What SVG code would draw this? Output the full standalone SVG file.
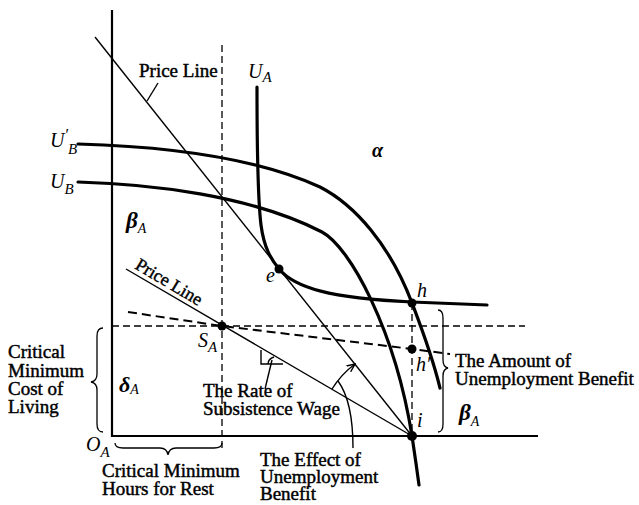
<svg xmlns="http://www.w3.org/2000/svg" width="639" height="505" viewBox="0 0 639 505">
<style>
.lbl{font-family:"Liberation Serif",serif;font-size:19px;fill:#000;stroke:#000;stroke-width:0.45}
.m{font-family:"Liberation Serif",serif;font-style:italic;font-size:20px;fill:#000}
.g{font-family:"Liberation Serif",serif;font-style:italic;font-weight:bold;fill:#000}
.ax{stroke:#000;stroke-width:2.2;fill:none}
.thin{stroke:#000;stroke-width:1.4;fill:none}
.curve{stroke:#000;stroke-width:3.2;fill:none;stroke-linecap:round}
.dash{stroke:#000;stroke-width:1.3;fill:none;stroke-dasharray:7 4}
.dash2{stroke:#000;stroke-width:2;fill:none;stroke-dasharray:9 5}
.br{stroke:#000;stroke-width:1.3;fill:none}
</style>
<defs>
<marker id="arr" viewBox="0 0 10 10" refX="9" refY="5" markerWidth="9" markerHeight="9" orient="auto" markerUnits="userSpaceOnUse">
<path d="M0,1 L9,5 L0,9" fill="none" stroke="#000" stroke-width="1.6"/>
</marker>
</defs>
<rect width="639" height="505" fill="#fff"/>
<g id="axes">
<path class="ax" d="M112,10 V437"/>
<path class="ax" d="M112,436 H538"/>
</g>
<g id="connectors">
<path class="dash" d="M222,45 V452"/>
<path class="dash" d="M112,326 H525"/>
<path class="dash2" d="M128,312 L222,326 L412,349 L450,354"/>
<path class="dash" d="M412,303 V436"/>
<path class="thin" d="M95,37 L412,436"/>
<path class="thin" d="M126,269 L412,436"/>
<path class="thin" d="M158,83 L147,101"/>
<path class="thin" d="M261,350 V364 H283"/>
<path class="thin" d="M268,364 Q268,359 274,357"/>
<path class="thin" d="M265,389 L272,360"/>
<path class="thin" d="M332,389 A92,92 0 0,1 355,364" marker-end="url(#arr)"/>
<path class="thin" d="M353,448 C353,418 349,396 338,381"/>
</g>
<g id="curves">
<path id="UBp" class="curve" d="M78,144 C150,146 250,155 320,187 C355,205 390,245 412,303 C420,324 432,355 440,388"/>
<path id="UB" class="curve" d="M78,182 C150,184 250,195 322,232 C350,247 395,330 412,436 C414,449 417,470 419,485"/>
<path id="UA" class="curve" d="M257,87 C257,150 258,200 261,225 C264,248 271,259 279,269 C295,288 330,298 412,302 C440,303 465,304 487,305"/>
</g>
<g id="braces">
<path class="br" d="M103,328 Q97,328 97,336 L97,374 Q97,381 91,382 Q97,383 97,390 L97,424 Q97,432 103,432"/>
<path class="br" d="M115,443 Q115,448 123,448 L160,448 Q167,448 168,455 Q169,448 176,448 L214,448 Q222,448 222,443"/>
<path class="br" d="M438,310 Q443,310 443,318 L443,360 Q443,367 448,368 Q443,369 443,376 L443,424 Q443,432 438,432"/>
</g>
<g id="points">
<circle id="pS" cx="222" cy="326" r="4.5"/>
<circle id="pe" cx="279" cy="269" r="4.5"/>
<circle id="ph" cx="412" cy="303" r="4.5"/>
<circle id="phh" cx="412" cy="349" r="4.5"/>
<circle id="pi" cx="412" cy="436" r="5"/>
</g>
<g id="labels">
<text class="lbl" x="139" y="77">Price Line</text>
<text class="lbl" x="166" y="287" text-anchor="middle" transform="rotate(30.7 166 287)" style="font-size:18px">Price Line</text>
<text class="m" x="248" y="78">U<tspan dy="4" style="font-size:15px">A</tspan></text>
<text class="m" x="50" y="147">U<tspan dy="-7" style="font-size:16px">′</tspan><tspan dy="14" style="font-size:15px">B</tspan></text>
<text class="m" x="50" y="188">U<tspan dy="6" style="font-size:15px">B</tspan></text>
<text class="g" x="372" y="157" style="font-size:20px">α</text>
<text class="g" x="126" y="228" style="font-size:23px">β<tspan dy="5" style="font-size:14px;font-weight:normal">A</tspan></text>
<text class="g" x="459" y="420" style="font-size:23px">β<tspan dy="6" style="font-size:14px;font-weight:normal">A</tspan></text>
<text class="g" x="119" y="392" style="font-size:22px">δ<tspan dy="2" style="font-size:14px;font-weight:normal">A</tspan></text>
<text class="m" x="86" y="451">O<tspan dy="6" style="font-size:15px">A</tspan></text>
<text class="m" x="198" y="347">S<tspan dy="5" style="font-size:15px">A</tspan></text>
<text class="m" x="266" y="282">e</text>
<text class="m" x="417" y="297">h</text>
<text class="m" x="416" y="371">h′</text>
<text class="m" x="417" y="427">i</text>
<text class="lbl" x="8" y="358">Critical<tspan x="8" dy="19">Minimum</tspan><tspan x="8" dy="18">Cost of</tspan><tspan x="8" dy="18">Living</tspan></text>
<text class="lbl" x="102" y="477">Critical Minimum<tspan x="102" dy="18">Hours for Rest</tspan></text>
<text class="lbl" x="203" y="397">The Rate of<tspan x="203" dy="18">Subsistence Wage</tspan></text>
<text class="lbl" x="260" y="466">The Effect of<tspan x="260" dy="17">Unemployment</tspan><tspan x="260" dy="17">Benefit</tspan></text>
<text class="lbl" x="455" y="367">The Amount of<tspan x="455" dy="18">Unemployment Benefit</tspan></text>
</g>
</svg>
